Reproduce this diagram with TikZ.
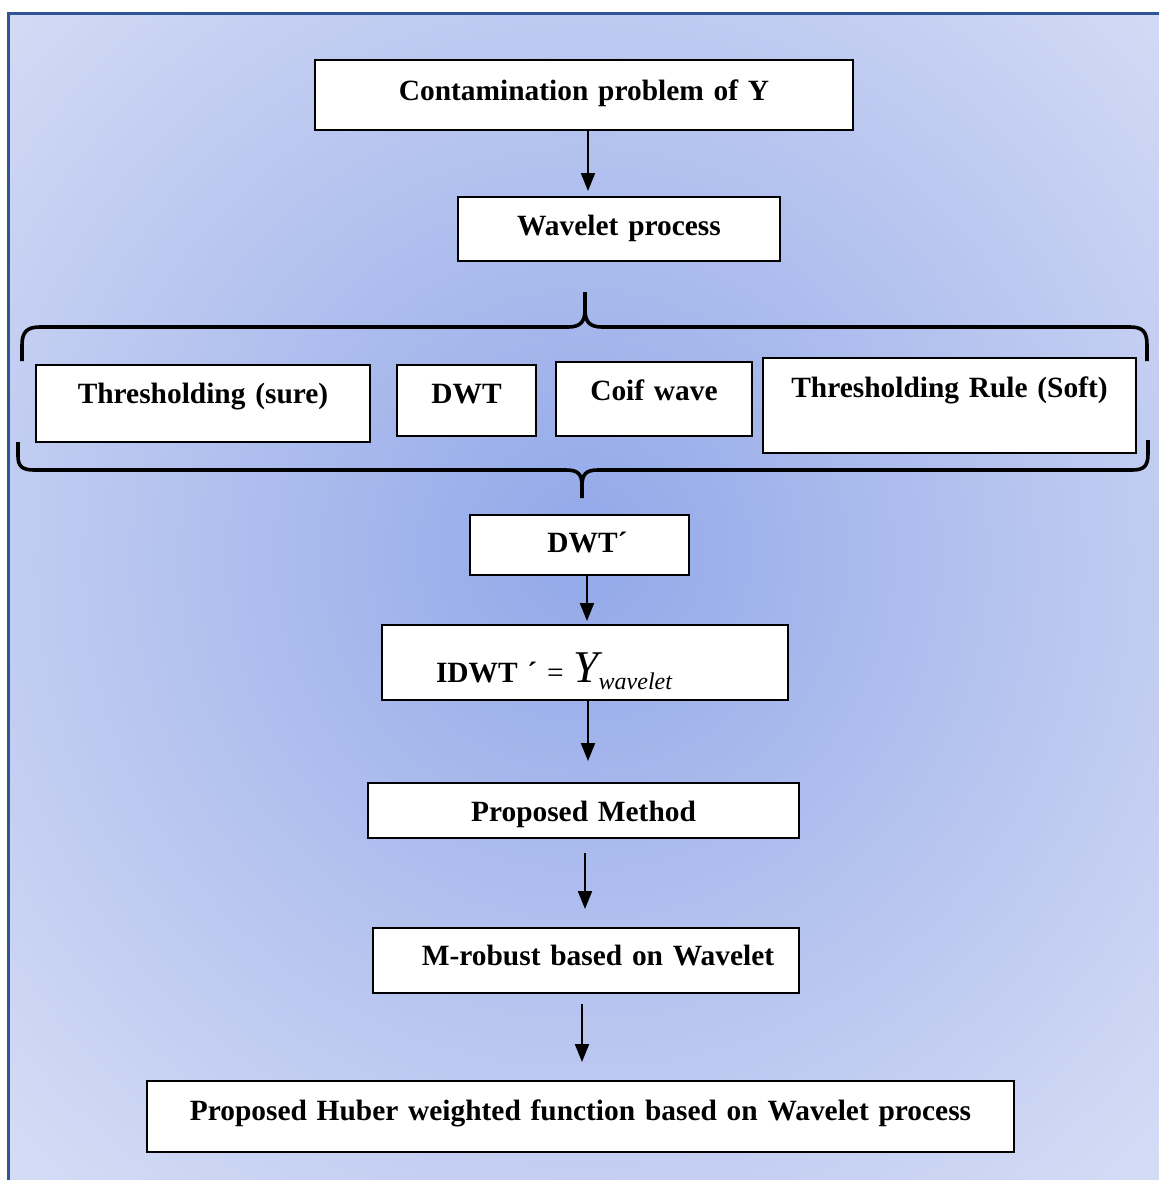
\documentclass[tikz,border=0pt]{standalone}
\usepackage{fontspec}
\setmainfont{Liberation Serif}
\usetikzlibrary{arrows.meta,calc}
\definecolor{frameblue}{RGB}{47,85,151}
\definecolor{bgin}{RGB}{150,171,233}
\definecolor{bgmid}{RGB}{208,216,244}
\definecolor{bgout}{RGB}{226,231,248}
\pgfdeclareradialshading{bgshade}{\pgfpoint{0bp}{2bp}}{color(0bp)=(bgin); color(2bp)=(bgin); color(33bp)=(bgmid); color(46bp)=(bgout); color(100bp)=(bgout)}
\tikzset{
  box/.style={draw=black, line width=1pt, fill=white, inner sep=0pt, align=center,
    font=\fontsize{14.7}{17}\selectfont\bfseries},
  arr/.style={line width=1pt, -{Triangle[width=7pt,length=9pt]}},
  bracepath/.style={line width=1.8pt, line join=round, line cap=butt}
}
% name, x1, y1, x2, y2, baseline, text
\newcommand\boxnode[7]{%
  \pgfmathsetmacro\myW{(#4-#2)*0.5}%
  \pgfmathsetmacro\myH{(#6-#3)*0.5}%
  \pgfmathsetmacro\myD{(#5-#6)*0.5}%
  \pgfmathsetmacro\myC{(#2+#4)/2}%
  \node[box, text width=\myW pt, text height=\myH pt, text depth=\myD pt, anchor=base] (#1) at (\myC,#6) {#7};}
\begin{document}
\begin{tikzpicture}[x=0.5pt,y=-0.5pt]
\useasboundingbox (0,0) rectangle (1159,1180);
\shade[shading=bgshade] (8,13) rectangle (1159,1180);
\draw[frameblue, line width=1.5pt] (8,1180) -- (8,13) -- (1159,13);

\boxnode{c1}{315}{60}{853}{130}{100}{Contamination problem of Y}
\boxnode{wp}{458}{197}{780}{261}{235}{Wavelet process}
\boxnode{ts}{36}{365}{370}{442}{403}{Thresholding (sure)}
\boxnode{dwt}{397}{365}{536}{436}{403}{DWT}
\boxnode{coif}{556}{362}{752}{436}{400}{Coif wave}
\boxnode{trs}{763}{358}{1136}{453}{397}{Thresholding Rule (Soft)}
\boxnode{dwtp}{470}{515}{689}{575}{552}{\hspace*{8pt}DWT´}
\boxnode{idwt}{382}{625}{788}{700}{682}{\hspace*{-31pt}IDWT ´ {\mdseries =} {\fontsize{22.7}{22}\selectfont\mdseries\itshape Y}\raisebox{-3.5pt}{\fontsize{12}{12}\selectfont\mdseries\itshape wavelet}}
\boxnode{pm}{368}{783}{799}{838}{821}{Proposed Method}
\boxnode{mr}{373}{928}{799}{993}{965}{\hspace*{12pt}M-robust based on Wavelet}
\boxnode{fin}{147}{1081}{1014}{1152}{1120}{Proposed Huber weighted function based on Wavelet process}

% braces
\draw[bracepath] (22,361) -- (22,345) .. controls (22,332) and (27,327) .. (40,327)
  -- (568,327) .. controls (580,327) and (585,322) .. (585,310) -- (585,292)
  (585,310) .. controls (585,322) and (590,327) .. (602,327)
  -- (1130,327) .. controls (1143,327) and (1147,332) .. (1147,345) -- (1147,361);
\draw[bracepath] (18,442) -- (18,456) .. controls (18,466) and (22,470) .. (34,470)
  -- (566,470) .. controls (578,470) and (582,474) .. (582,486) -- (582,498)
  (582,486) .. controls (582,474) and (586,470) .. (598,470)
  -- (1132,470) .. controls (1144,470) and (1148,466) .. (1148,454) -- (1148,440);

% arrows
\coordinate (a1) at ($(c1.south)+(4,0)$);
\coordinate (a2) at ($(dwtp.south)+(7.5,0)$);
\coordinate (a3) at ($(idwt.south)+(3,0)$);
\coordinate (a4) at ($(pm.south)+(1.5,0)$);
\coordinate (a5) at ($(mr.south)+(-4,0)$);
\draw[arr, shorten >=2.5pt] (a1) -- (a1 |- wp.north);
\draw[arr, shorten >=1.5pt] (a2) -- (a2 |- idwt.north);
\draw[arr, shorten >=10.5pt] (a3) -- (a3 |- pm.north);
\draw[arr, shorten <=7pt, shorten >=9pt] (a4) -- (a4 |- mr.north);
\draw[arr, shorten <=5pt, shorten >=9pt] (a5) -- (a5 |- fin.north);
\end{tikzpicture}
\end{document}
